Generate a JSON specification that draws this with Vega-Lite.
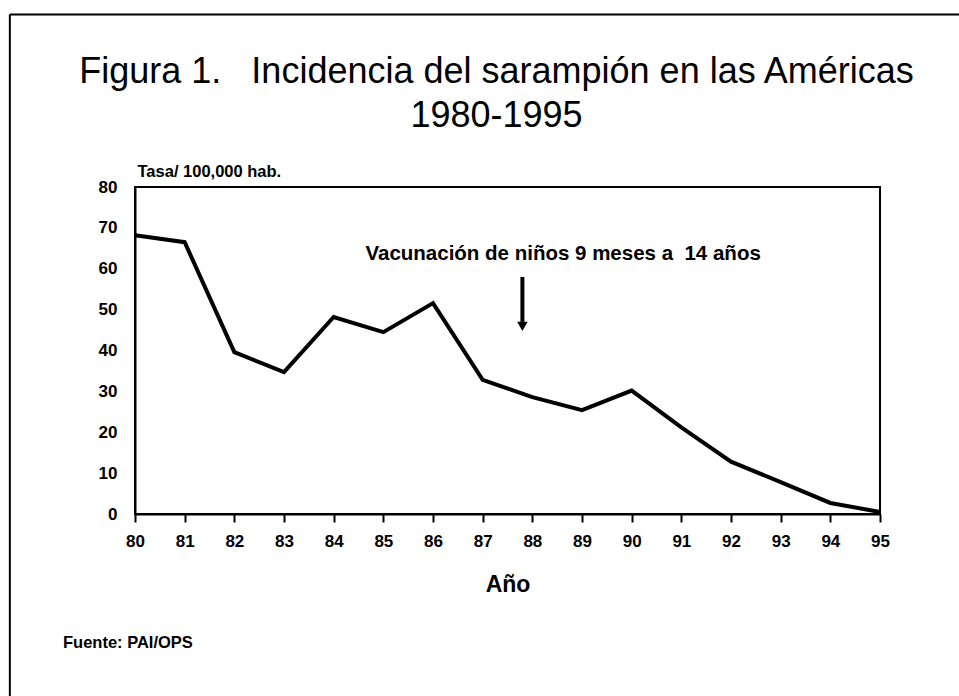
{
  "$schema": "https://vega.github.io/schema/vega-lite/v6.json",
  "width": 745,
  "height": 327,
  "autosize": {"type": "none"},
  "padding": {"left": 135, "top": 187, "right": 79, "bottom": 182},
  "background": "white",
  "title": {
    "text": ["Figura 1.\u00a0\u00a0\u00a0Incidencia del sarampión en las Américas", "1980-1995"],
    "font": "Liberation Sans",
    "fontSize": 36,
    "fontWeight": "normal",
    "lineHeight": 44,
    "color": "black",
    "anchor": "middle",
    "baseline": "alphabetic",
    "dx": -11,
    "dy": 149,
    "offset": 0
  },
  "config": {
    "view": {"stroke": "black", "strokeWidth": 2},
    "axis": {"domainColor": "black", "domainWidth": 2, "grid": false, "labelColor": "black", "titleColor": "black"}
  },
  "data": {
    "values": [
      {"year": 80, "rate": 68.2},
      {"year": 81, "rate": 66.5},
      {"year": 82, "rate": 39.6},
      {"year": 83, "rate": 34.7},
      {"year": 84, "rate": 48.2},
      {"year": 85, "rate": 44.5},
      {"year": 86, "rate": 51.6},
      {"year": 87, "rate": 32.8},
      {"year": 88, "rate": 28.6},
      {"year": 89, "rate": 25.4},
      {"year": 90, "rate": 30.2},
      {"year": 91, "rate": 21.2},
      {"year": 92, "rate": 12.8},
      {"year": 93, "rate": 7.8},
      {"year": 94, "rate": 2.7},
      {"year": 95, "rate": 0.5}
    ]
  },
  "layer": [
    {
      "mark": {"type": "line", "color": "black", "strokeWidth": 4, "strokeJoin": "miter"},
      "encoding": {
        "x": {
          "field": "year", "type": "quantitative",
          "scale": {"domain": [80, 95], "nice": false, "zero": false},
          "axis": {
            "values": [80,81,82,83,84,85,86,87,88,89,90,91,92,93,94,95],
            "format": "d",
            "title": "Año",
            "titleFont": "Liberation Sans", "titleFontSize": 23, "titleFontWeight": "bold",
            "titlePadding": 24,
            "labelFont": "Liberation Sans", "labelFontSize": 17, "labelFontWeight": "bold",
            "labelFlush": false,
            "labelPadding": 11,
            "tickSize": 8, "tickWidth": 2, "tickColor": "black"
          }
        },
        "y": {
          "field": "rate", "type": "quantitative",
          "scale": {"domain": [0, 80], "nice": false},
          "axis": {
            "values": [0,10,20,30,40,50,60,70,80],
            "title": "Tasa/ 100,000 hab.",
            "titleAngle": 0, "titleAlign": "left", "titleBaseline": "alphabetic",
            "titleX": 2, "titleY": -11,
            "titleFont": "Liberation Sans", "titleFontSize": 16.5, "titleFontWeight": "bold",
            "labelFont": "Liberation Sans", "labelFontSize": 17, "labelFontWeight": "bold",
            "labelFlush": false,
            "ticks": false,
            "labelPadding": 18
          }
        }
      }
    },
    {
      "data": {"values": [{}]},
      "mark": {"type": "rule", "color": "black", "strokeWidth": 4},
      "encoding": {
        "x": {"datum": 87.8, "type": "quantitative"},
        "y": {"datum": 58, "type": "quantitative"},
        "y2": {"datum": 47}
      }
    },
    {
      "data": {"values": [{}]},
      "mark": {"type": "point", "shape": "triangle-down", "filled": true, "color": "black", "opacity": 1, "size": 110},
      "encoding": {
        "x": {"datum": 87.8, "type": "quantitative"},
        "y": {"datum": 45.9, "type": "quantitative"}
      }
    },
    {
      "data": {"values": [{}]},
      "mark": {"type": "text", "text": "Vacunación de niños 9 meses a\u00a0 14 años", "font": "Liberation Sans", "fontSize": 20.5, "fontWeight": "bold", "align": "center", "baseline": "alphabetic", "color": "black"},
      "encoding": {
        "x": {"datum": 88.62, "type": "quantitative"},
        "y": {"datum": 62.1, "type": "quantitative"}
      }
    },
    {
      "data": {"values": [{}]},
      "mark": {"type": "text", "text": "Fuente: PAI/OPS", "font": "Liberation Sans", "fontSize": 16.5, "fontWeight": "bold", "align": "left", "baseline": "alphabetic", "color": "black"},
      "encoding": {
        "x": {"datum": 78.55, "type": "quantitative"},
        "y": {"datum": -32.8, "type": "quantitative"}
      }
    },
    {
      "data": {"values": [{}]},
      "mark": {"type": "rule", "color": "black", "strokeWidth": 2},
      "encoding": {
        "x": {"datum": 77.48, "type": "quantitative"},
        "x2": {"datum": 96.7},
        "y": {"datum": 122.2, "type": "quantitative"}
      }
    },
    {
      "data": {"values": [{}]},
      "mark": {"type": "rule", "color": "black", "strokeWidth": 2},
      "encoding": {
        "x": {"datum": 77.48, "type": "quantitative"},
        "y": {"datum": 122.2, "type": "quantitative"},
        "y2": {"datum": -45}
      }
    }
  ]
}
